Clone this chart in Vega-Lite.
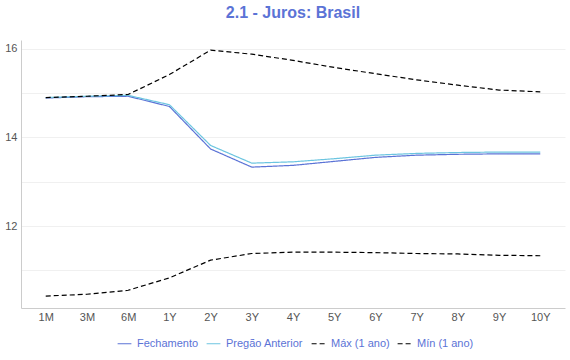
{
  "$schema": "https://vega.github.io/schema/vega-lite/v6.json",
  "width": 544,
  "height": 268,
  "autosize": {"type": "none"},
  "padding": {"left": 21, "right": 5, "top": 40, "bottom": 52},
  "config": {
    "font": "Liberation Sans",
    "view": {"stroke": null}
  },
  "title": {
    "text": "2.1 - Juros: Brasil",
    "color": "#5b73d6",
    "fontSize": 16,
    "fontWeight": "bold",
    "anchor": "middle",
    "offset": 19
  },
  "data": {
    "values": [
      {"tenor": "1M", "serie": "Fechamento", "taxa": 14.89},
      {"tenor": "3M", "serie": "Fechamento", "taxa": 14.92},
      {"tenor": "6M", "serie": "Fechamento", "taxa": 14.93},
      {"tenor": "1Y", "serie": "Fechamento", "taxa": 14.70},
      {"tenor": "2Y", "serie": "Fechamento", "taxa": 13.74},
      {"tenor": "3Y", "serie": "Fechamento", "taxa": 13.33},
      {"tenor": "4Y", "serie": "Fechamento", "taxa": 13.37},
      {"tenor": "5Y", "serie": "Fechamento", "taxa": 13.46},
      {"tenor": "6Y", "serie": "Fechamento", "taxa": 13.55},
      {"tenor": "7Y", "serie": "Fechamento", "taxa": 13.60},
      {"tenor": "8Y", "serie": "Fechamento", "taxa": 13.62},
      {"tenor": "9Y", "serie": "Fechamento", "taxa": 13.63},
      {"tenor": "10Y", "serie": "Fechamento", "taxa": 13.63},
      {"tenor": "1M", "serie": "Pregão Anterior", "taxa": 14.90},
      {"tenor": "3M", "serie": "Pregão Anterior", "taxa": 14.93},
      {"tenor": "6M", "serie": "Pregão Anterior", "taxa": 14.95},
      {"tenor": "1Y", "serie": "Pregão Anterior", "taxa": 14.74},
      {"tenor": "2Y", "serie": "Pregão Anterior", "taxa": 13.82},
      {"tenor": "3Y", "serie": "Pregão Anterior", "taxa": 13.42},
      {"tenor": "4Y", "serie": "Pregão Anterior", "taxa": 13.45},
      {"tenor": "5Y", "serie": "Pregão Anterior", "taxa": 13.52},
      {"tenor": "6Y", "serie": "Pregão Anterior", "taxa": 13.60},
      {"tenor": "7Y", "serie": "Pregão Anterior", "taxa": 13.64},
      {"tenor": "8Y", "serie": "Pregão Anterior", "taxa": 13.66},
      {"tenor": "9Y", "serie": "Pregão Anterior", "taxa": 13.67},
      {"tenor": "10Y", "serie": "Pregão Anterior", "taxa": 13.67},
      {"tenor": "1M", "serie": "Máx (1 ano)", "taxa": 14.90},
      {"tenor": "3M", "serie": "Máx (1 ano)", "taxa": 14.93},
      {"tenor": "6M", "serie": "Máx (1 ano)", "taxa": 14.97},
      {"tenor": "1Y", "serie": "Máx (1 ano)", "taxa": 15.42},
      {"tenor": "2Y", "serie": "Máx (1 ano)", "taxa": 15.97},
      {"tenor": "3Y", "serie": "Máx (1 ano)", "taxa": 15.88},
      {"tenor": "4Y", "serie": "Máx (1 ano)", "taxa": 15.74},
      {"tenor": "5Y", "serie": "Máx (1 ano)", "taxa": 15.58},
      {"tenor": "6Y", "serie": "Máx (1 ano)", "taxa": 15.44},
      {"tenor": "7Y", "serie": "Máx (1 ano)", "taxa": 15.30},
      {"tenor": "8Y", "serie": "Máx (1 ano)", "taxa": 15.18},
      {"tenor": "9Y", "serie": "Máx (1 ano)", "taxa": 15.07},
      {"tenor": "10Y", "serie": "Máx (1 ano)", "taxa": 15.03},
      {"tenor": "1M", "serie": "Mín (1 ano)", "taxa": 10.42},
      {"tenor": "3M", "serie": "Mín (1 ano)", "taxa": 10.46},
      {"tenor": "6M", "serie": "Mín (1 ano)", "taxa": 10.55},
      {"tenor": "1Y", "serie": "Mín (1 ano)", "taxa": 10.83},
      {"tenor": "2Y", "serie": "Mín (1 ano)", "taxa": 11.23},
      {"tenor": "3Y", "serie": "Mín (1 ano)", "taxa": 11.38},
      {"tenor": "4Y", "serie": "Mín (1 ano)", "taxa": 11.41},
      {"tenor": "5Y", "serie": "Mín (1 ano)", "taxa": 11.41},
      {"tenor": "6Y", "serie": "Mín (1 ano)", "taxa": 11.40},
      {"tenor": "7Y", "serie": "Mín (1 ano)", "taxa": 11.38},
      {"tenor": "8Y", "serie": "Mín (1 ano)", "taxa": 11.37},
      {"tenor": "9Y", "serie": "Mín (1 ano)", "taxa": 11.34},
      {"tenor": "10Y", "serie": "Mín (1 ano)", "taxa": 11.33}
    ]
  },
  "mark": {"type": "line", "interpolate": "linear", "strokeWidth": 1.2},
  "encoding": {
    "x": {
      "field": "tenor",
      "type": "ordinal",
      "sort": ["1M", "3M", "6M", "1Y", "2Y", "3Y", "4Y", "5Y", "6Y", "7Y", "8Y", "9Y", "10Y"],
      "scale": {"type": "point", "padding": 0.6},
      "axis": {
        "title": null,
        "labelAngle": 0,
        "labelColor": "#555555",
        "labelFontSize": 11,
        "labelPadding": 3,
        "ticks": false,
        "domainColor": "#cccccc",
        "grid": false
      }
    },
    "y": {
      "field": "taxa",
      "type": "quantitative",
      "scale": {"domain": [10.15, 16.2], "nice": false, "zero": false},
      "axis": {
        "title": null,
        "values": [11, 12, 13, 14, 15, 16],
        "labelExpr": "datum.value % 2 == 0 ? datum.label : ''",
        "labelColor": "#555555",
        "labelFontSize": 11,
        "labelPadding": 4,
        "ticks": false,
        "domainColor": "#cccccc",
        "gridColor": "#f0f0f0"
      }
    },
    "color": {
      "field": "serie",
      "type": "nominal",
      "scale": {
        "domain": ["Fechamento", "Pregão Anterior", "Máx (1 ano)", "Mín (1 ano)"],
        "range": ["#5b73d6", "#6cc5e0", "#000000", "#000000"]
      },
      "legend": {
        "title": null,
        "orient": "none",
        "legendX": 96,
        "legendY": 296,
        "direction": "horizontal",
        "symbolType": "stroke",
        "symbolSize": 190,
        "symbolStrokeWidth": 1.2,
        "labelColor": "#5b73d6",
        "labelFontSize": 11,
        "labelOffset": 5,
        "columnPadding": 5
      }
    },
    "strokeDash": {
      "field": "serie",
      "type": "nominal",
      "scale": {
        "domain": ["Fechamento", "Pregão Anterior", "Máx (1 ano)", "Mín (1 ano)"],
        "range": [[1, 0], [1, 0], [5, 3], [5, 3]]
      },
      "legend": null
    }
  }
}
